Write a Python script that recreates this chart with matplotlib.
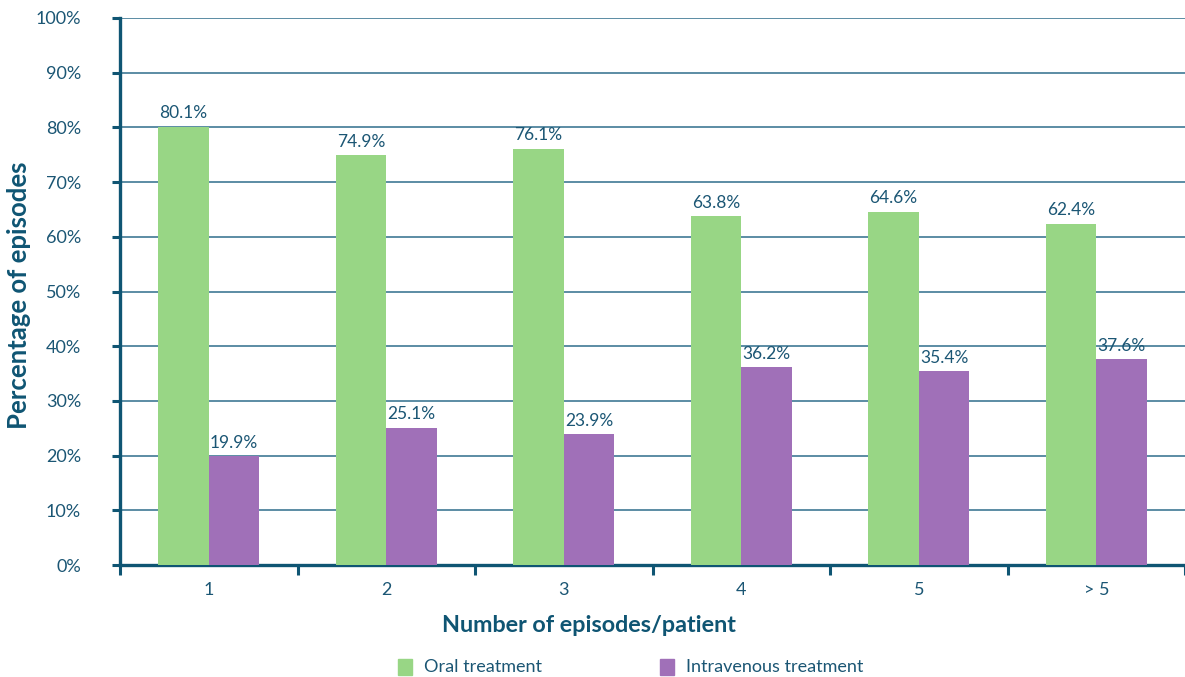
import matplotlib
matplotlib.use("Agg")
import matplotlib.pyplot as plt
import numpy as np
from matplotlib.patches import Rectangle

categories = ["1", "2", "3", "4", "5", "> 5"]
oral = [80.1, 74.9, 76.1, 63.8, 64.6, 62.4]
intravenous = [19.9, 25.1, 23.9, 36.2, 35.4, 37.6]
yticks = [0, 10, 20, 30, 40, 50, 60, 70, 80, 90, 100]

GREEN = "#98d685"
PURPLE = "#a070b8"
AXIS = "#0f5573"
GRID = "#2f6e8c"
TEXT = "#1b5674"

plt.rcParams["font.family"] = ["Lato", "DejaVu Sans"]

fig = plt.figure(figsize=(11.85, 6.77), dpi=100)
ax = fig.add_axes([120 / 1185, 112 / 677, 1065 / 1185, 547 / 677])

x = np.arange(len(categories))
w = 0.285
ax.bar(x - w / 2, oral, width=w, color=GREEN, zorder=3)
ax.bar(x + w / 2, intravenous, width=w, color=PURPLE, zorder=3)

for xi, v in zip(x, oral):
    ax.text(xi - w / 2, v + 1.0, f"{v:.1f}%", ha="center", va="bottom",
            fontsize=12.5, color=TEXT)
for xi, v in zip(x, intravenous):
    ax.text(xi + w / 2, v + 1.0, f"{v:.1f}%", ha="center", va="bottom",
            fontsize=12.5, color=TEXT)

ax.set_xlim(-0.5, len(categories) - 0.5)
ax.set_ylim(0, 100)
ax.set_yticks(yticks)
ax.set_yticklabels([f"{t}%" for t in yticks])
ax.yaxis.grid(True, color=GRID, linewidth=1.1, zorder=0)
ax.set_axisbelow(True)

# Category labels at centres, tick marks on the boundaries
ax.set_xticks(np.arange(-0.5, len(categories)), minor=False)
ax.set_xticklabels([""] * (len(categories) + 1))
ax.set_xticks(x, minor=True)
ax.set_xticklabels(categories, minor=True)
ax.tick_params(axis="x", which="major", length=7, width=2.2, color=AXIS, direction="out")
ax.tick_params(axis="x", which="minor", length=0, pad=12, labelsize=13, labelcolor=TEXT)
ax.tick_params(axis="y", length=6, width=2.2, color=AXIS, pad=22,
               labelsize=13, labelcolor=TEXT)

for s in ["top", "right"]:
    ax.spines[s].set_visible(False)
for s in ["left", "bottom"]:
    ax.spines[s].set_color(AXIS)
    ax.spines[s].set_linewidth(2.4)

fig.text(589 / 1185, 1 - 626 / 677, "Number of episodes/patient", ha="center",
         va="center", fontsize=16.8, fontweight="bold", color=AXIS)
fig.text(19 / 1185, 1 - 295 / 677, "Percentage of episodes", ha="center",
         va="center", rotation=90, fontsize=18.5, fontweight="bold", color=AXIS)

# Legend entries
for x0, col, label in [(398, GREEN, "Oral treatment"),
                       (660, PURPLE, "Intravenous treatment")]:
    fig.patches.append(Rectangle((x0 / 1185, 1 - 675 / 677), 14 / 1185, 16 / 677,
                                 transform=fig.transFigure, color=col))
    fig.text((x0 + 26) / 1185, 1 - 667 / 677, label, ha="left", va="center",
             fontsize=13, color=TEXT)

fig.savefig("out.png", dpi=100)
